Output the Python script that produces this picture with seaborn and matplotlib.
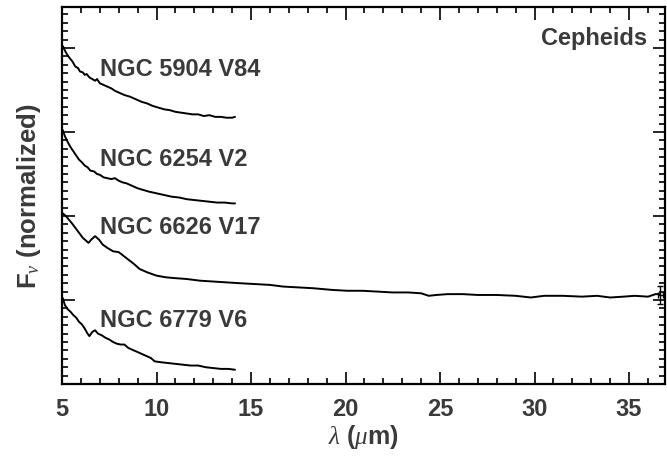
import numpy as np
import pandas as pd
import matplotlib
matplotlib.use("Agg")
import matplotlib.pyplot as plt
import seaborn as sns
from matplotlib.ticker import MultipleLocator, NullFormatter

# ---- data (curves already offset by integer steps) ----
stars = ["NGC 5904 V84", "NGC 6254 V2", "NGC 6626 V17", "NGC 6779 V6"]

wl_v84 = [5.05, 5.15, 5.25, 5.4, 5.55, 5.7, 5.85, 5.95, 6.1, 6.2, 6.3, 6.45, 6.6, 6.75, 6.85, 7.0,
          7.2, 7.4, 7.6, 7.8, 8.0, 8.3, 8.6, 8.9, 9.2, 9.5, 9.8, 10.1, 10.4, 10.7, 11.0, 11.3,
          11.6, 11.9, 12.2, 12.5, 12.8, 13.1, 13.4, 13.7, 14.0, 14.15]
fx_v84 = [4.02, 3.97, 3.93, 3.88, 3.84, 3.78, 3.76, 3.72, 3.71, 3.68, 3.69, 3.65, 3.63, 3.61, 3.63, 3.58,
          3.56, 3.54, 3.52, 3.49, 3.47, 3.44, 3.42, 3.39, 3.36, 3.34, 3.31, 3.29, 3.27, 3.26, 3.24, 3.23,
          3.22, 3.21, 3.21, 3.19, 3.20, 3.18, 3.18, 3.17, 3.17, 3.18]

wl_v2 = [5.05, 5.15, 5.3, 5.45, 5.6, 5.75, 5.9, 6.05, 6.2, 6.35, 6.5, 6.7, 6.85, 7.0, 7.2, 7.4,
         7.6, 7.8, 8.0, 8.2, 8.4, 8.7, 9.0, 9.3, 9.6, 10.0, 10.4, 10.8, 11.2, 11.6, 12.0, 12.4,
         12.8, 13.2, 13.6, 14.0, 14.15]
fx_v2 = [3.02, 2.95, 2.88, 2.82, 2.77, 2.72, 2.67, 2.64, 2.60, 2.58, 2.54, 2.53, 2.50, 2.49, 2.46, 2.45,
         2.44, 2.45, 2.42, 2.40, 2.39, 2.36, 2.33, 2.31, 2.29, 2.27, 2.25, 2.23, 2.22, 2.20, 2.19, 2.18,
         2.17, 2.16, 2.16, 2.15, 2.15]

wl_v17 = [5.05, 5.2, 5.35, 5.5, 5.7, 5.9, 6.1, 6.3, 6.4, 6.55, 6.75, 6.95, 7.15, 7.4, 7.7, 8.0,
          8.4, 8.8, 9.1, 9.5, 10.0, 10.5, 11.0, 11.6, 12.3, 13.0, 13.7, 14.4, 15.2, 16.0, 16.7,
          17.5, 18.3, 19.3, 20.1, 20.9, 21.7, 22.5, 23.3, 24.0, 24.4, 24.8, 25.4, 26.2, 27.0,
          28.0, 29.0, 29.8, 30.5, 31.5, 32.5, 33.3, 34.0, 34.7, 35.3, 36.0, 36.4, 36.65]
fx_v17 = [2.03, 2.00, 1.96, 1.92, 1.86, 1.80, 1.74, 1.70, 1.68, 1.72, 1.76, 1.72, 1.66, 1.62, 1.58, 1.57,
          1.50, 1.43, 1.37, 1.33, 1.29, 1.27, 1.26, 1.25, 1.23, 1.22, 1.21, 1.20, 1.19, 1.18, 1.16,
          1.15, 1.14, 1.12, 1.11, 1.11, 1.10, 1.09, 1.09, 1.08, 1.05, 1.06, 1.07, 1.07, 1.06,
          1.06, 1.05, 1.03, 1.05, 1.05, 1.04, 1.05, 1.03, 1.04, 1.05, 1.04, 1.07, 1.07]

wl_v6 = [5.05, 5.15, 5.3, 5.45, 5.6, 5.75, 5.9, 6.05, 6.2, 6.35, 6.45, 6.6, 6.75, 6.9, 7.1, 7.3,
         7.5, 7.7, 7.9, 8.1, 8.3, 8.5, 8.8, 9.1, 9.4, 9.7, 9.9, 10.2, 10.6, 11.0, 11.4, 11.8,
         12.2, 12.6, 13.0, 13.4, 13.8, 14.15]
fx_v6 = [1.02, 0.94, 0.89, 0.86, 0.82, 0.79, 0.74, 0.71, 0.66, 0.60, 0.57, 0.62, 0.64, 0.60, 0.58, 0.55,
         0.53, 0.50, 0.48, 0.47, 0.47, 0.43, 0.40, 0.37, 0.34, 0.31, 0.27, 0.26, 0.25, 0.24, 0.23, 0.22,
         0.22, 0.20, 0.19, 0.18, 0.18, 0.17]

err_x = [36.65]
err_y = [1.06]
err_dy = [0.11]
err_dx = [0.12]

label_x = [7.0, 7.0, 7.0, 7.0]
label_y = [3.75, 2.68, 1.87, 0.77]

# ---- build long-form table ----
frames = []
for name, wl, fx in zip(stars, [wl_v84, wl_v2, wl_v17, wl_v6], [fx_v84, fx_v2, fx_v17, fx_v6]):
    frames.append(pd.DataFrame({"wl": wl, "flux": fx, "star": name}))
df = pd.concat(frames, ignore_index=True)

sns.set_theme(style="ticks")
plt.rcParams["font.family"] = ["Liberation Sans", "DejaVu Sans"]
plt.rcParams["mathtext.fontset"] = "custom"
plt.rcParams["mathtext.rm"] = "Liberation Sans"
plt.rcParams["mathtext.it"] = "Liberation Serif:italic"
plt.rcParams["mathtext.bf"] = "Liberation Sans:bold"

txt = "#3a3a3a"
fig = plt.figure(figsize=(6.67, 4.6), dpi=100)
ax = fig.add_axes([0.093, 0.163, 0.904, 0.820])

sns.lineplot(data=df, x="wl", y="flux", hue="star", units="star", estimator=None,
             palette=["black"] * 4, linewidth=1.4, legend=False, sort=False, ax=ax)
ax.errorbar(err_x, err_y, yerr=err_dy, xerr=err_dx, fmt="none", ecolor="black",
            elinewidth=1.0, capsize=2.5, capthick=1.0)

for name, lx, ly in zip(stars, label_x, label_y):
    ax.text(lx, ly, name, fontsize=17, fontweight="bold", color=txt, va="center", ha="left")
ax.text(35.95, 4.13, "Cepheids", fontsize=17, fontweight="bold", color=txt, va="center", ha="right")

ax.set_xlim(5, 36.9)
ax.set_ylim(0, 4.49)
ax.xaxis.set_major_locator(MultipleLocator(5))
ax.xaxis.set_minor_locator(MultipleLocator(1))
ax.yaxis.set_major_locator(MultipleLocator(1))
ax.yaxis.set_minor_locator(MultipleLocator(0.1))
ax.yaxis.set_major_formatter(NullFormatter())
ax.tick_params(which="both", direction="in", top=True, right=True, colors="black",
               labelcolor=txt, labelsize=17, width=1.2)
ax.tick_params(which="major", length=9, pad=9)
ax.tick_params(which="minor", length=4.5)
for lab in ax.get_xticklabels():
    lab.set_fontweight("bold")
for sp in ax.spines.values():
    sp.set_linewidth(1.6)
    sp.set_color("black")

ax.set_xlabel(r"$\lambda$ ($\mu$m)", fontsize=18, fontweight="bold", color=txt, labelpad=2)
ax.set_ylabel(r"$\mathbf{F}_{\nu}$ (normalized)", fontsize=18.5, fontweight="bold", color=txt, labelpad=5)

fig.savefig("out.png", dpi=100)
